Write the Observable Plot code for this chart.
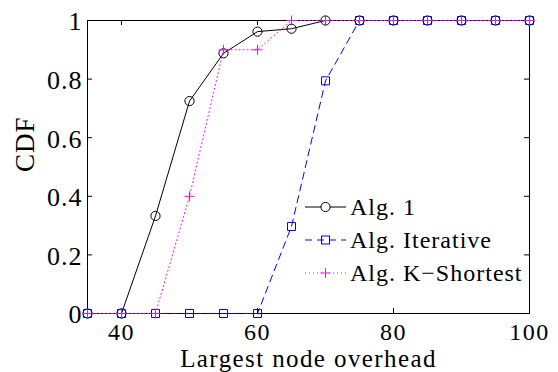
<!DOCTYPE html>
<html>
<head>
<meta charset="utf-8">
<script src="https://cdn.jsdelivr.net/npm/d3@7"></script>
<script src="https://cdn.jsdelivr.net/npm/@observablehq/plot@0.6"></script>
<style>
  html, body { margin: 0; padding: 0; background: #fff; }
  #wrap { position: relative; width: 558px; height: 372px; }
  #wrap svg, #wrap svg text { font-family: "Liberation Serif", "Times New Roman", serif !important; }
  #wrap svg text { letter-spacing: 1px; }
  #wrap svg text.xlab { letter-spacing: 1.4px; }
  #wrap svg text.xtick { letter-spacing: 1.5px; }
  #legend { position: absolute; left: 0; top: 0; pointer-events: none; }
</style>
</head>
<body>
<div id="wrap"></div>
<script>
const xValues = [35, 40, 45, 50, 55, 60, 65, 70, 75, 80, 85, 90, 95, 100];
const alg1 = [0, 0, 0.333, 0.725, 0.888, 0.962, 0.972, 1, 1, 1, 1, 1, 1, 1];
const algIterative = [0, 0, 0, 0, 0, 0, 0.297, 0.794, 1, 1, 1, 1, 1, 1];
const algKShortest = [0, 0, 0, 0.4, 0.9, 0.9, 1, 1, 1, 1, 1, 1, 1, 1];
const seriesNames = ["Alg. 1", "Alg. Iterative", "Alg. K\u2212Shortest"];
const xTicks = [40, 60, 80, 100];
const yTicks = [0, 0.2, 0.4, 0.6, 0.8, 1];
const xLabel = "Largest node overhead";
const yLabel = "CDF";

const FONT = "Liberation Serif";

const plusSymbol = {
  draw(ctx, size) {
    const r = Math.sqrt(size / Math.PI);
    ctx.moveTo(-r, 0); ctx.lineTo(r, 0);
    ctx.moveTo(0, -r); ctx.lineTo(0, r);
  }
};
const squareSymbol = {
  draw(ctx, size) {
    const r = Math.sqrt(size / Math.PI);
    ctx.rect(-r, -r, 2 * r, 2 * r);
  }
};

const rows = (ys) => xValues.map((x, i) => ({x, y: ys[i]}));
const d1 = rows(alg1), d2 = rows(algIterative), d3r = rows(algKShortest);

const W = 558, H = 372;
const mL = 87, mR = 29, mT = 20, mB = 59;
const ph = H - mT - mB, pw = W - mL - mR;
const tk = 5;

const chart = Plot.plot({
  width: W, height: H,
  marginLeft: mL, marginRight: mR, marginTop: mT, marginBottom: mB,
  style: {fontFamily: FONT, fontSize: "24px", color: "#000", background: "#fff"},
  x: {domain: [35, 100]},
  y: {domain: [0, 1]},
  marks: [
    Plot.axisX({ticks: xTicks, tickSize: 0, tickPadding: 9, label: null, fontSize: 24, fontFamily: FONT, className: "xaxis"}),
    Plot.axisY({ticks: yTicks, tickSize: 0, tickPadding: 5, label: null, fontSize: 26, fontFamily: FONT, dy: 1.5,
      tickFormat: d => (d === 0 || d === 1) ? String(d) : d3.format(".1f")(d)}),
    Plot.tickX(xTicks, {x: d => d, insetTop: ph - tk, stroke: "#000"}),
    Plot.tickX(xTicks, {x: d => d, insetBottom: ph - tk, stroke: "#000"}),
    Plot.tickY(yTicks, {y: d => d, insetRight: pw - tk, stroke: "#000"}),
    Plot.tickY(yTicks, {y: d => d, insetLeft: pw - tk, stroke: "#000"}),
    Plot.frame({stroke: "#000", strokeWidth: 1}),
    Plot.line(d1, {x: "x", y: "y", stroke: "#000", strokeWidth: 1}),
    Plot.dot(d1, {x: "x", y: "y", symbol: "circle", r: 4.6, stroke: "#000", fill: "none", strokeWidth: 1}),
    Plot.line(d2, {x: "x", y: "y", stroke: "#0000ff", strokeWidth: 1, strokeDasharray: "7,5"}),
    Plot.dot(d2, {x: "x", y: "y", symbol: squareSymbol, r: 4, stroke: "#0000ff", fill: "none", strokeWidth: 1}),
    Plot.line(d3r, {x: "x", y: "y", stroke: "#ff00ff", strokeWidth: 1, strokeDasharray: "1,3"}),
    Plot.dot(d3r, {x: "x", y: "y", symbol: plusSymbol, r: 5, stroke: "#ff00ff", fill: "none", strokeWidth: 1}),
    Plot.text([xLabel], {frameAnchor: "bottom", lineAnchor: "middle", dy: 45, dx: 0, text: d => d, fontSize: 25, fontFamily: FONT, fill: "#000"}),
    Plot.text([yLabel], {frameAnchor: "left", lineAnchor: "middle", dx: -62, dy: 5, rotate: -90, text: d => d, fontSize: 27, fontFamily: FONT, fill: "#000"})
  ]
});
const wrap = document.getElementById("wrap");
wrap.appendChild(chart);
d3.select(chart).selectAll("text").filter(function() { return this.textContent === xLabel; }).classed("xlab", true);
d3.select(chart).selectAll(".xaxis text").classed("xtick", true);

// Legend overlay (inside the axes, lower right, no box)
const ns = "http://www.w3.org/2000/svg";
const leg = document.createElementNS(ns, "svg");
leg.setAttribute("id", "legend");
leg.setAttribute("width", W); leg.setAttribute("height", H);
const styles = [
  {stroke: "#000", dash: null, sym: "circle"},
  {stroke: "#0000ff", dash: "7,5", sym: "square"},
  {stroke: "#ff00ff", dash: "1,3", sym: "plus"}
];
const rowY = [207, 240, 273];
seriesNames.forEach((name, i) => {
  const s = styles[i], y = rowY[i];
  const line = document.createElementNS(ns, "line");
  line.setAttribute("x1", 305); line.setAttribute("x2", 346);
  line.setAttribute("y1", y); line.setAttribute("y2", y);
  line.setAttribute("stroke", s.stroke);
  if (s.dash) { line.setAttribute("stroke-dasharray", s.dash); }
  leg.appendChild(line);
  let m;
  if (s.sym === "circle") {
    m = document.createElementNS(ns, "circle");
    m.setAttribute("cx", 325.5); m.setAttribute("cy", y); m.setAttribute("r", 4.6);
  } else if (s.sym === "square") {
    m = document.createElementNS(ns, "rect");
    m.setAttribute("x", 321.5); m.setAttribute("y", y - 4); m.setAttribute("width", 8); m.setAttribute("height", 8);
  } else {
    m = document.createElementNS(ns, "path");
    m.setAttribute("d", `M320.5,${y}h10M325.5,${y - 5}v10`);
  }
  m.setAttribute("fill", i === 0 ? "#fff" : "none");
  m.setAttribute("stroke", s.stroke);
  leg.appendChild(m);
  const t = document.createElementNS(ns, "text");
  t.setAttribute("x", 350); t.setAttribute("y", y);
  t.setAttribute("dy", "0.35em");
  t.setAttribute("font-family", FONT);
  t.setAttribute("font-size", 24);
  t.setAttribute("letter-spacing", "1px");
  t.textContent = name;
  leg.appendChild(t);
});
wrap.appendChild(leg);
</script>
</body>
</html>
